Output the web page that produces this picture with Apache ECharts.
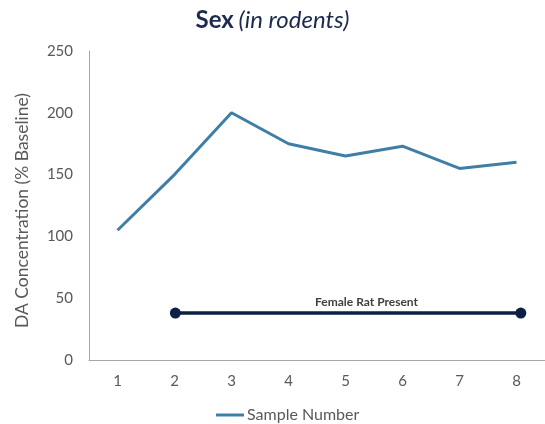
<!DOCTYPE html>
<html>
<head>
<meta charset="utf-8">
<script src="https://cdn.jsdelivr.net/npm/echarts@6/dist/echarts.min.js"></script>
<style>
  html, body { margin: 0; padding: 0; background: #fff; }
  #chart { width: 545px; height: 424px; }
</style>
</head>
<body>
<div id="chart"></div>
<script>
const samples = ['1', '2', '3', '4', '5', '6', '7', '8']
const concentration = [105, 150, 200, 175, 165, 173, 155, 160]
// female rat present: from sample 2 to sample 8
const femaleSpan = [[2, 38], [8, 38]]
const femaleLabelAt = [5.32, 38]
const yTicks = { min: 0, max: 250, interval: 50 }

const chart = echarts.init(document.getElementById('chart'))
const font = 'Lato, "Open Sans", sans-serif'

chart.setOption({
  animation: false,
  textStyle: { fontFamily: font },
  title: {
    text: '{b|Sex} {i|(in rodents)}',
    left: 'center',
    top: 3,
    textStyle: {
      fontWeight: 'normal',
      rich: {
        b: { fontFamily: font, fontWeight: 'bold', fontSize: 24, color: '#1b2a4e' },
        i: { fontFamily: font, fontStyle: 'italic', fontWeight: 'normal', fontSize: 24, color: '#1b2a4e' },
      },
    },
  },
  legend: {
    top: 402,
    left: 211,
    data: ['Sample Number'],
    itemWidth: 28,
    itemHeight: 3,
    itemGap: 4,
    icon: 'rect',
    textStyle: { fontFamily: font, fontSize: 16, color: '#595959', padding: [0, 0, 0, -2] },
  },
  grid: { left: 89, right: 0, top: 51, bottom: 64 },
  xAxis: [
    {
      type: 'category',
      data: samples,
      boundaryGap: true,
      axisLine: { lineStyle: { color: '#a6a6a6', width: 1 } },
      axisTick: { show: false },
      axisLabel: { fontFamily: font, fontSize: 15, color: '#595959', margin: 14 },
    },
    {
      type: 'value',
      min: 0.5,
      max: 8.42,
      show: false,
    },
  ],
  yAxis: {
    type: 'value',
    min: yTicks.min,
    max: yTicks.max,
    interval: yTicks.interval,
    name: 'DA Concentration (% Baseline)',
    nameLocation: 'middle',
    nameGap: 58,
    nameTextStyle: { fontFamily: font, fontSize: 17.5, color: '#595959', padding: [0, 0, 0, -10] },
    axisLine: { show: true, lineStyle: { color: '#a6a6a6', width: 1 } },
    axisTick: { show: false },
    splitLine: { show: false },
    axisLabel: { fontFamily: font, fontSize: 15, color: '#595959', margin: 16 },
  },
  series: [
    {
      name: 'Sample Number',
      type: 'line',
      data: concentration,
      showSymbol: false,
      symbol: 'none',
      color: '#3f7ea6',
      lineStyle: { width: 3, color: '#3f7ea6' },
    },
    {
      name: 'Female Rat Present',
      type: 'line',
      xAxisIndex: 1,
      data: femaleSpan,
      symbol: 'circle',
      symbolSize: 11,
      color: '#0c1f45',
      lineStyle: { width: 3.5, color: '#0c1f45' },
      itemStyle: { color: '#0c1f45' },
      markPoint: {
        symbol: 'rect',
        symbolSize: 1,
        itemStyle: { color: 'rgba(0,0,0,0)' },
        label: {
          show: true,
          formatter: 'Female Rat Present',
          offset: [0, -11],
          fontFamily: font,
          fontWeight: 'bold',
          fontSize: 12,
          color: '#404040',
        },
        data: [{ coord: femaleLabelAt }],
      },
    },
  ],
})
</script>
</body>
</html>
